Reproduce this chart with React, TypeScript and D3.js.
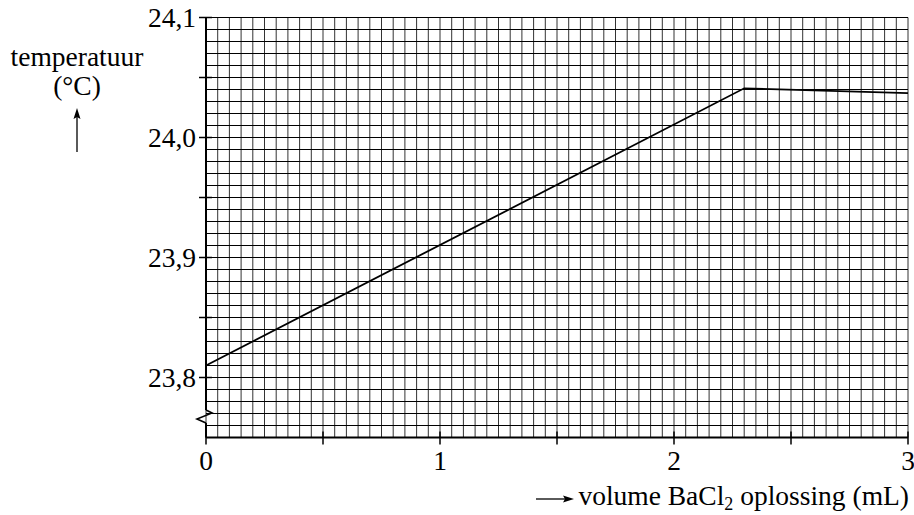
import React from 'react'
import * as d3 from 'd3'

// measured line: temperature vs added BaCl2 volume
const volumes = [0, 2.3, 3]
const temps = [23.81, 24.041, 24.037]

const xTicks = [0, 1, 2, 3]
const xTickLabels = ['0', '1', '2', '3']
const xMinorTicks = [0, 0.5, 1, 1.5, 2, 2.5, 3]
const yTicks = [23.8, 23.9, 24.0, 24.1]
const yTickLabels = ['23,8', '23,9', '24,0', '24,1']
const yMinorTicks = [23.8, 23.85, 23.9, 23.95, 24.0, 24.05, 24.1]

const width = 914
const height = 515
const margin = { top: 17.5, right: 6, bottom: 77.5, left: 206 }
const font = '"Liberation Serif", "Times New Roman", serif'
const fs = 27.5

export default function App() {
  const x = d3.scaleLinear().domain([0, 3]).range([margin.left, width - margin.right])
  const y = d3.scaleLinear().domain([23.75, 24.1]).range([height - margin.bottom, margin.top])

  const vGrid = d3.range(0, 61).map((i) => i * 0.05)
  const hGrid = d3.range(0, 36).map((i) => 23.75 + i * 0.01)

  const line = d3
    .line<number>()
    .x((d, i) => x(volumes[i]))
    .y((d) => y(d))

  const x0 = x(0)
  const yBot = y(23.75)
  // axis break (zigzag) near the bottom of the y axis
  const brk = [
    [x0, 410],
    [x0 + 6, 413],
    [x0 - 9, 419],
    [x0, 423],
  ]

  return (
    <div style={{ position: 'absolute', left: 0, top: 0 }}>
      <svg width={width} height={height} style={{ display: 'block', background: '#fff' }} fontFamily={font}>
        {/* grid */}
        <g stroke="#000" strokeWidth={1} fill="none">
          {vGrid.map((v, i) => (
            <line key={'v' + i} x1={x(v)} x2={x(v)} y1={y(24.1)} y2={yBot} stroke="#333" />
          ))}
          {hGrid.map((v, i) => (
            <line key={'h' + i} x1={x0} x2={x(3)} y1={y(v)} y2={y(v)} />
          ))}
        </g>

        {/* axes */}
        <g stroke="#000" strokeWidth={2} fill="none">
          <line x1={x0} x2={x(3)} y1={yBot} y2={yBot} />
          <line x1={x0} x2={x0} y1={y(24.1)} y2={brk[0][1]} />
          <polyline points={brk.map((p) => p.join(',')).join(' ')} strokeWidth={1.6} />
          <line x1={x0} x2={x0} y1={brk[3][1]} y2={yBot} />
          {xMinorTicks.map((v, i) => (
            <line key={'xt' + i} x1={x(v)} x2={x(v)} y1={yBot - 6} y2={yBot + 7} strokeWidth={1.5} />
          ))}
          {yMinorTicks.map((v, i) => (
            <line key={'yt' + i} x1={x0 - 7} x2={x0 + 6} y1={y(v)} y2={y(v)} strokeWidth={1.5} />
          ))}
        </g>

        {/* data line */}
        <path d={line(temps) || ''} fill="none" stroke="#000" strokeWidth={1.8} />

        {/* tick labels */}
        <g fontSize={fs} fill="#000">
          {yTicks.map((v, i) => (
            <text key={'yl' + i} x={x0 - 10} y={y(v)} dy="0.34em" textAnchor="end">
              {yTickLabels[i]}
            </text>
          ))}
          {xTicks.map((v, i) => (
            <text key={'xl' + i} x={x(v)} y={470} textAnchor="middle">
              {xTickLabels[i]}
            </text>
          ))}
        </g>

        {/* y title */}
        <g fontSize={fs} fill="#000" textAnchor="middle">
          <text x={77} y={66}>temperatuur</text>
          <text x={77} y={95}>(°C)</text>
        </g>
        <line x1={77} x2={77} y1={152} y2={116} stroke="#000" strokeWidth={1.3} />
        <path d="M77,108 L73.5,119 L77,117 L80.5,119 Z" fill="#000" />

        {/* x title */}
        <line x1={536} x2={566} y1={499} y2={499} stroke="#000" strokeWidth={1.3} />
        <path d="M574,499 L563,495.5 L565,499 L563,502.5 Z" fill="#000" />
        <text x={909} y={505} fontSize={fs} fill="#000" textAnchor="end">
          volume BaCl
          <tspan fontSize={18} dy={5}>2</tspan>
          <tspan dy={-5}> oplossing (mL)</tspan>
        </text>
      </svg>
    </div>
  )
}
